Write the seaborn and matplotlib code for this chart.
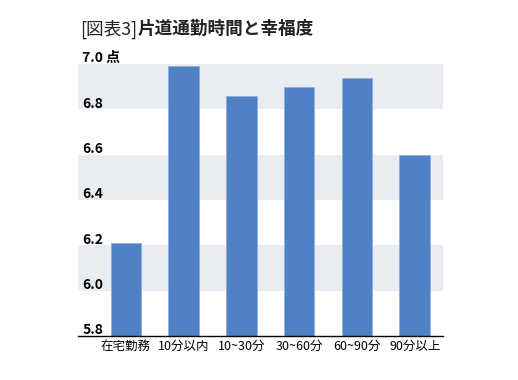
import matplotlib
matplotlib.use("Agg")
import matplotlib.pyplot as plt
import matplotlib.transforms as mtransforms
import seaborn as sns
import pandas as pd

# Data
categories = ["在宅勤務", "10分以内", "10~30分", "30~60分", "60~90分", "90分以上"]
scores = [6.21, 6.99, 6.86, 6.90, 6.94, 6.60]
y_ticks = [5.8, 6.0, 6.2, 6.4, 6.6, 6.8, 7.0]
y_labels = ["5.8", "6.0", "6.2", "6.4", "6.6", "6.8", "7.0 点"]
bands = [(6.0, 6.2), (6.4, 6.6), (6.8, 7.0)]

sns.set_style("white")
plt.rcParams["font.family"] = ["Noto Sans CJK JP", "DejaVu Sans"]

df = pd.DataFrame({"category": categories, "score": scores})

fig = plt.figure(figsize=(5.18, 3.8), dpi=100)
ax = fig.add_axes([78 / 518, 44 / 380, 365 / 518, 272 / 380])

# gray background bands
for lo, hi in bands:
    ax.axhspan(lo, hi, color="#E9ECF0", zorder=0, lw=0)

sns.barplot(data=df, x="category", y="score", color="#4F81C4", width=0.53,
            saturation=1, edgecolor="#8FB0DC", linewidth=0.6, ax=ax, zorder=2)

ax.set_ylim(5.8, 7.0)
ax.set_xlim(-0.83, 5.49)
ax.set_xlabel("")
ax.set_ylabel("")
ax.set_yticks([])
ax.tick_params(axis="x", length=0, pad=3, labelsize=9, colors="black")

for side in ["top", "right", "left"]:
    ax.spines[side].set_visible(False)
ax.spines["bottom"].set_color("black")
ax.spines["bottom"].set_linewidth(1.0)

# y labels drawn inside the plot, just above their gridline
trans = mtransforms.blended_transform_factory(ax.transAxes, ax.transData)
offset = mtransforms.ScaledTranslation(3 / 72, -1 / 72, fig.dpi_scale_trans)
for v, lab in zip(y_ticks, y_labels):
    ax.text(0.0, v, lab, transform=trans + offset, ha="left", va="bottom",
            fontsize=10, fontweight="bold", color="black", zorder=3)

# title: light bracket part then bold part
t1 = fig.text(80 / 518, 1 - 29 / 380, "[図表3]", fontsize=12.7, color="#222222",
              va="center", ha="left")
fig.canvas.draw()
bb = t1.get_window_extent(renderer=fig.canvas.get_renderer())
fig.text(bb.x1 / fig.bbox.width, 1 - 29 / 380, "片道通勤時間と幸福度", fontsize=12.7,
         fontweight="bold", color="#222222", va="center", ha="left")

fig.savefig("out.png", dpi=100)
